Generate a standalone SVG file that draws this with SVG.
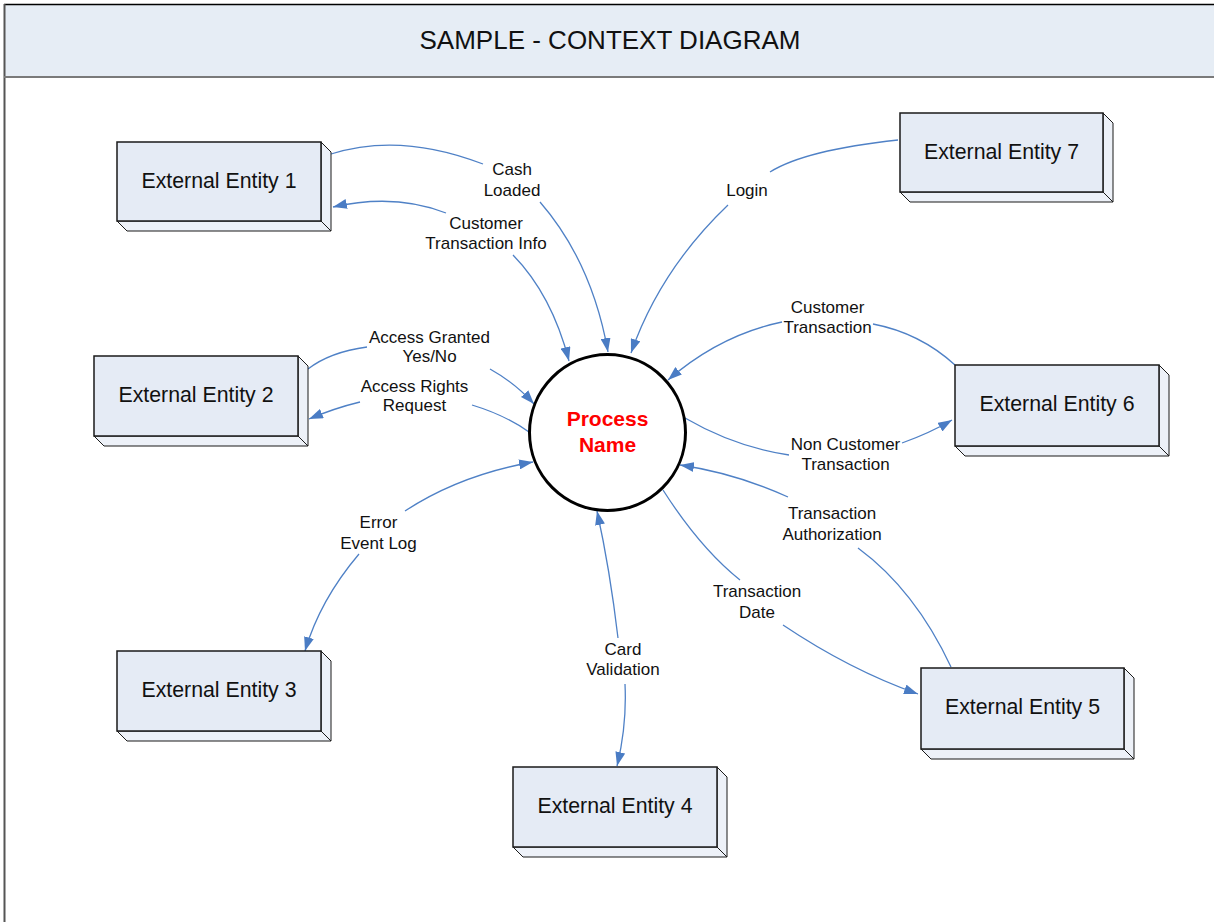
<svg xmlns="http://www.w3.org/2000/svg" width="1214" height="922" viewBox="0 0 1214 922">
<style>
.front{fill:#E5EBF5;stroke:#1a1a1a;stroke-width:1.5}
.side{fill:#EDF1F8;stroke:#1a1a1a;stroke-width:1}
.etext{font-family:"Liberation Sans",Arial,sans-serif;font-size:21.3px;fill:#111;text-anchor:middle}
.lbl{font-family:"Liberation Sans",Arial,sans-serif;font-size:17px;fill:#111;text-anchor:middle}
.conn{fill:none;stroke:#4F81C6;stroke-width:1.3}
.arr{marker-end:url(#ah)}
</style>
<defs>
<marker id="ah" viewBox="0 0 14 10" refX="14" refY="5" markerWidth="14" markerHeight="10" markerUnits="userSpaceOnUse" orient="auto">
<path d="M0,0 L14,5 L0,10 z" fill="#4A7CC4"/>
</marker>
</defs>
<rect x="0" y="0" width="1214" height="922" fill="#fff"/>
<g id="frame">
<rect x="4" y="4" width="1215" height="73" fill="#E6EDF5"/>
<line x1="4" y1="4.5" x2="1214" y2="4.5" stroke="#000" stroke-width="1.5"/>
<line x1="4.5" y1="4" x2="4.5" y2="922" stroke="#555" stroke-width="2"/>
<line x1="4" y1="77" x2="1214" y2="77" stroke="#7a7a7a" stroke-width="2"/>
<text x="610" y="49" font-family="'Liberation Sans',Arial,sans-serif" font-size="26" fill="#111" text-anchor="middle">SAMPLE - CONTEXT DIAGRAM</text>
</g>
<g id="connectors">
<path class="conn" d="M331,154 Q400,132 483,164"/>
<path class="conn arr" d="M540,202 Q592,262 608,352"/>
<path class="conn arr" d="M446,213 Q395,193 333,207"/>
<path class="conn arr" d="M513,255 Q552,295 569,361"/>
<path class="conn" d="M898,140 Q805,150 770,172"/>
<path class="conn arr" d="M728,205 Q660,270 631,353"/>
<path class="conn" d="M308,369 Q330,352 367,347"/>
<path class="conn arr" d="M490,369 Q515,383 534,404"/>
<path class="conn arr" d="M360,402 Q335,408 309,419"/>
<path class="conn" d="M472,405 Q505,415 529,432"/>
<path class="conn arr" d="M405,511 Q460,475 533,462"/>
<path class="conn arr" d="M359,554 Q320,600 305,651"/>
<path class="conn" d="M955,365 Q920,333 873,324"/>
<path class="conn arr" d="M782,322 Q720,335 668,380"/>
<path class="conn" d="M685,418 Q735,447 789,455"/>
<path class="conn arr" d="M902,443 Q930,433 952,420"/>
<path class="conn" d="M951,667 Q915,590 858,548"/>
<path class="conn arr" d="M788,497 Q735,473 680,465"/>
<path class="conn" d="M663,490 Q700,548 740,580"/>
<path class="conn arr" d="M783,625 Q850,670 918,694"/>
<path class="conn arr" d="M618,638 Q610,570 597,511"/>
<path class="conn arr" d="M625,684 Q627,725 617,766"/>
</g>
<g id="labels">
<text class="lbl" x="512" y="175">Cash</text>
<text class="lbl" x="512" y="196">Loaded</text>
<text class="lbl" x="486" y="229">Customer</text>
<text class="lbl" x="486" y="249">Transaction Info</text>
<text class="lbl" x="747" y="196">Login</text>
<text class="lbl" x="429.5" y="343">Access Granted</text>
<text class="lbl" x="429.5" y="362">Yes/No</text>
<text class="lbl" x="414.5" y="392">Access Rights</text>
<text class="lbl" x="414.5" y="411">Request</text>
<text class="lbl" x="827.5" y="313">Customer</text>
<text class="lbl" x="827.5" y="333">Transaction</text>
<text class="lbl" x="845.5" y="450">Non Customer</text>
<text class="lbl" x="845.5" y="470">Transaction</text>
<text class="lbl" x="378.5" y="528">Error</text>
<text class="lbl" x="378.5" y="549">Event Log</text>
<text class="lbl" x="832" y="519">Transaction</text>
<text class="lbl" x="832" y="540">Authorization</text>
<text class="lbl" x="757" y="597">Transaction</text>
<text class="lbl" x="757" y="618">Date</text>
<text class="lbl" x="623" y="655">Card</text>
<text class="lbl" x="623" y="675">Validation</text>
</g>
<g id="process">
<circle cx="607.5" cy="432.5" r="78" fill="#fff" stroke="#000" stroke-width="3"/>
<text x="607.5" y="426" font-family="'Liberation Sans',Arial,sans-serif" font-size="21" font-weight="bold" fill="#FF0000" text-anchor="middle">Process</text>
<text x="607.5" y="452" font-family="'Liberation Sans',Arial,sans-serif" font-size="21" font-weight="bold" fill="#FF0000" text-anchor="middle">Name</text>
</g>
<g id="entity1">
<polygon class="side" points="321,142 331,152 331,231 321,221"/>
<polygon class="side" points="117,221 321,221 331,231 127,231"/>
<rect class="front" x="117" y="142" width="204" height="79"/>
<text class="etext" x="219" y="188">External Entity 1</text>
</g>
<g id="entity2">
<polygon class="side" points="298,356 308,366 308,446 298,436"/>
<polygon class="side" points="94,436 298,436 308,446 104,446"/>
<rect class="front" x="94" y="356" width="204" height="80"/>
<text class="etext" x="196" y="402">External Entity 2</text>
</g>
<g id="entity3">
<polygon class="side" points="321,651 331,661 331,741 321,731"/>
<polygon class="side" points="117,731 321,731 331,741 127,741"/>
<rect class="front" x="117" y="651" width="204" height="80"/>
<text class="etext" x="219" y="697">External Entity 3</text>
</g>
<g id="entity4">
<polygon class="side" points="717,767 727,777 727,857 717,847"/>
<polygon class="side" points="513,847 717,847 727,857 523,857"/>
<rect class="front" x="513" y="767" width="204" height="80"/>
<text class="etext" x="615" y="813">External Entity 4</text>
</g>
<g id="entity5">
<polygon class="side" points="1124,668 1134,678 1134,759 1124,749"/>
<polygon class="side" points="921,749 1124,749 1134,759 931,759"/>
<rect class="front" x="921" y="668" width="203" height="81"/>
<text class="etext" x="1022.5" y="714">External Entity 5</text>
</g>
<g id="entity6">
<polygon class="side" points="1159,365 1169,375 1169,456 1159,446"/>
<polygon class="side" points="955,446 1159,446 1169,456 965,456"/>
<rect class="front" x="955" y="365" width="204" height="81"/>
<text class="etext" x="1057" y="411">External Entity 6</text>
</g>
<g id="entity7">
<polygon class="side" points="1103,113 1113,123 1113,202 1103,192"/>
<polygon class="side" points="900,192 1103,192 1113,202 910,202"/>
<rect class="front" x="900" y="113" width="203" height="79"/>
<text class="etext" x="1001.5" y="159">External Entity 7</text>
</g>
</svg>
